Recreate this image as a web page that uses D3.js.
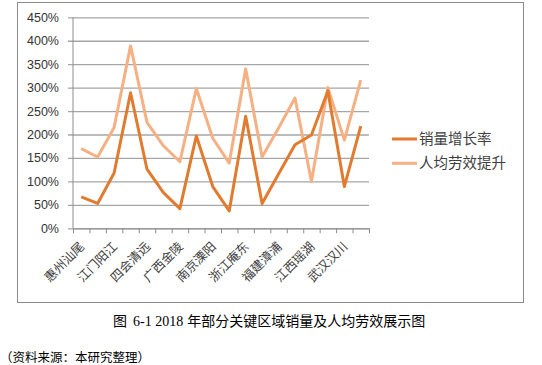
<!DOCTYPE html>
<html><head><meta charset="utf-8">
<script src="https://cdn.jsdelivr.net/npm/d3@7"></script>
<style>body{margin:0;background:#fff}svg{display:block}</style>
</head><body>
<script>
const categories = ["惠州汕尾","","江门阳江","","四会清远","","广西金陵","","南京溧阳","","浙江庵东","","福建漳浦","","江西瑶湖","","武汉汉川",""];
const salesGrowth = [67,53,118,289,126,76,42,197,89,37,239,53,116,178,199,293,89,218];
const laborEfficiency = [170,152,215,389,226,176,142,298,192,139,340,152,214,278,100,300,188,316];
const seriesNames = ["销量增长率","人均劳效提升"];
const yTicks = [0,50,100,150,200,250,300,350,400,450];
const titleParts = ["图", "6-1 2018", "年部分关键区域销量及人均劳效展示图"];
const source = "（资料来源：本研究整理）";

const W = 542, H = 365;
const svg = d3.select("body").append("svg").attr("width", W).attr("height", H);
const colors = ["#E07B2F", "#F5B084"];

// chart border
svg.append("rect").attr("x", 17.5).attr("y", 2.5).attr("width", 506).attr("height", 300)
  .attr("fill", "none").attr("stroke", "#8c8c8c").attr("stroke-width", 1);

const x0 = 73, x1 = 369, yTop = 17.3, yBot = 228.3;
const xb = d3.scaleLinear().domain([0, categories.length]).range([x0, x1]);
const y = d3.scaleLinear().domain([0, 450]).range([yBot, yTop]);
const cx = i => xb(i + 0.5);

// gridlines
const yAxis = d3.axisLeft(y).tickValues(yTicks).tickSize(-(x1 - x0)).tickSizeOuter(0)
  .tickFormat(d => d + "%").tickPadding(14);
const gy = svg.append("g").attr("transform", `translate(${x0},0)`).call(yAxis);
gy.select(".domain").remove();
gy.selectAll(".tick line").attr("stroke", "#a6a6a6").attr("stroke-width", 1.3)
  .attr("x1", -5);
gy.selectAll(".tick text").attr("font-family", "Liberation Sans, Arial, sans-serif")
  .attr("font-size", 12.5).attr("fill", "#333");
// y axis line
svg.append("line").attr("x1", x0).attr("x2", x0).attr("y1", yTop).attr("y2", yBot)
  .attr("stroke", "#8c8c8c").attr("stroke-width", 1);

// x axis
const xAxis = d3.axisBottom(xb).tickValues(d3.range(categories.length + 1)).tickSize(5)
  .tickSizeOuter(0).tickFormat("");
const gx = svg.append("g").attr("transform", `translate(0,${yBot})`).call(xAxis);
gx.select(".domain").attr("stroke", "#8c8c8c");
gx.selectAll(".tick line").attr("stroke", "#8c8c8c");

// x labels
svg.append("g").selectAll("text").data(categories).join("text")
  .attr("transform", (d, i) => `translate(${cx(i) + 4},${yBot + 19}) rotate(-45)`)
  .attr("text-anchor", "end")
  .attr("font-family", "Noto Sans CJK SC, sans-serif").attr("font-size", 12.5)
  .attr("fill", "#404040").text(d => d);

// lines
const line = d3.line().x((d, i) => cx(i)).y(d => y(d));
[laborEfficiency, salesGrowth].forEach((s, k) => {
  svg.append("path").datum(s).attr("d", line).attr("fill", "none")
    .attr("stroke", k === 0 ? colors[1] : colors[0]).attr("stroke-width", 3)
    .attr("stroke-linejoin", "round");
});

// legend
const lg = svg.append("g");
seriesNames.forEach((n, i) => {
  const ly = 139 + i * 24.3;
  lg.append("line").attr("x1", 392).attr("x2", 417).attr("y1", ly).attr("y2", ly)
    .attr("stroke", colors[i]).attr("stroke-width", 3);
  lg.append("text").attr("x", 419).attr("y", ly + 5).attr("font-family", "Noto Sans CJK SC, sans-serif")
    .attr("font-size", 14.5).attr("fill", "#404040").text(n);
});

// title & source
const t = svg.append("text").attr("x", 113).attr("y", 326)
  .attr("font-family", "Noto Sans CJK SC, sans-serif").attr("font-size", 14).attr("fill", "#000");
t.append("tspan").text(titleParts[0]);
t.append("tspan").attr("dx", 6).attr("font-family", "Liberation Serif, serif").text(titleParts[1]);
t.append("tspan").attr("dx", 4).text(titleParts[2]);
svg.append("text").attr("x", 0).attr("y", 362)
  .attr("font-family", "Noto Sans CJK SC, sans-serif").attr("font-size", 12.5)
  .attr("fill", "#000").text(source);
</script>
</body></html>
